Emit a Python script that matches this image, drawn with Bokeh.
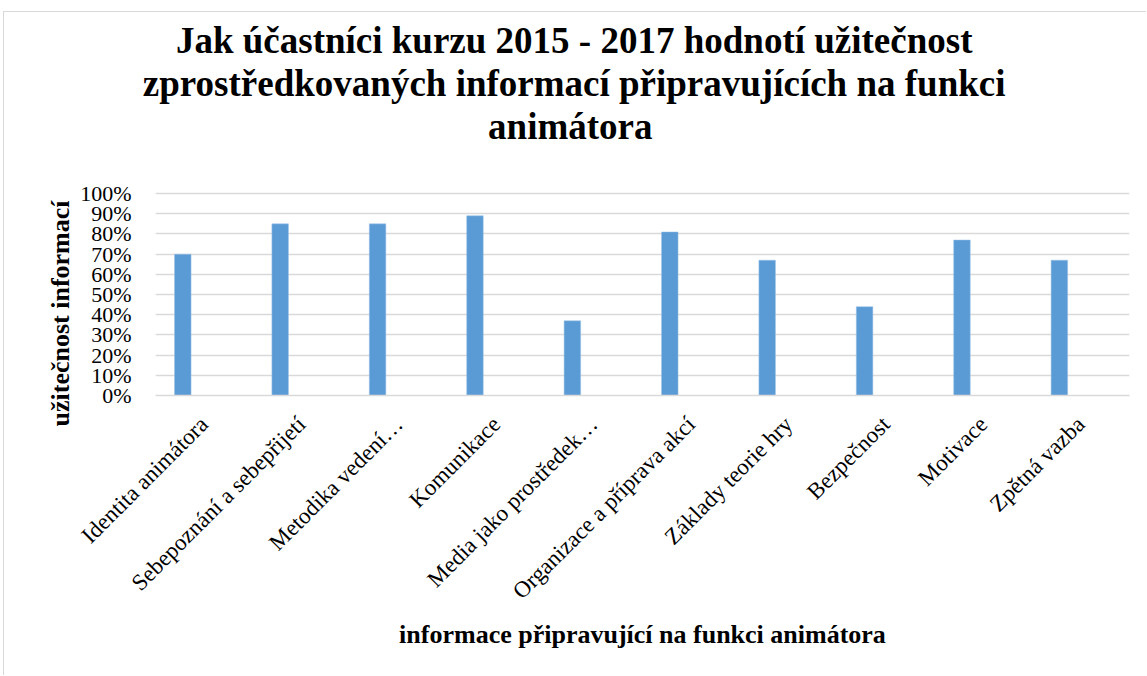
import math
from bokeh.plotting import figure
from bokeh.models import Title, FixedTicker, NumeralTickFormatter, Range1d
from bokeh.transform import dodge
from bokeh.embed import file_html
from bokeh.resources import INLINE

categories = [
    "Identita animátora",
    "Sebepoznání a sebepřijetí",
    "Metodika vedení…",
    "Komunikace",
    "Media jako prostředek…",
    "Organizace a příprava akcí",
    "Základy teorie hry",
    "Bezpečnost",
    "Motivace",
    "Zpětná vazba",
]
values = [0.70, 0.85, 0.85, 0.89, 0.37, 0.81, 0.67, 0.44, 0.77, 0.67]
y_ticks = [0.0, 0.1, 0.2, 0.3, 0.4, 0.5, 0.6, 0.7, 0.8, 0.9, 1.0]
title_lines = [
    "Jak účastníci kurzu 2015 - 2017 hodnotí užitečnost",
    "zprostředkovaných informací připravujících na funkci",
    "animátora",
]
x_title = "informace připravující na funkci animátora"
y_title = "užitečnost informací"

FONT = "Liberation Serif"
BFONT = "Times New Roman"
GRID = "#d9d9d9"

# the value range is extended above 100 % to leave blank room under the title;
# ticks and gridlines stop at 100 %
p = figure(
    x_range=categories,
    y_range=Range1d(0, 1.233),
    width=1143,
    height=664,
    output_backend="svg",
    toolbar_location=None,
    min_border_left=151,
    min_border_right=18,
    min_border_top=134,
    min_border_bottom=281,
)
p.styles = {
    "margin-left": "3px",
    "margin-top": "11px",
    "border-top": "1px solid #d9d9d9",
    "border-left": "1px solid #d9d9d9",
}

p.vbar(x=dodge("x", -0.22, range=p.x_range), top="top", width=0.17,
       source=dict(x=categories, top=values),
       color="#5b9bd5", line_color="#9dc3e6", line_width=0.5)

# title lines: right-aligned, offsets from the plot area's right edge
title_offsets = [157, 124, 477]
for line, off in reversed(list(zip(title_lines, title_offsets))):
    p.add_layout(Title(text=line, align="right", offset=off, standoff=0,
                       text_font=BFONT, text_font_size="37px",
                       text_font_style="bold", text_color="#000000"), "above")

p.add_layout(Title(text=y_title, align="right", offset=54, standoff=6,
                   text_font=BFONT, text_font_size="26px",
                   text_font_style="bold", text_color="#000000"), "left")

p.outline_line_color = None
p.background_fill_color = "white"
p.border_fill_color = "white"

p.xgrid.grid_line_color = None
p.ygrid.grid_line_color = GRID
p.ygrid.grid_line_width = 1.5

ya = p.left[0]
xa = p.below[0]
ya.ticker = FixedTicker(ticks=y_ticks)
ya.formatter = NumeralTickFormatter(format="0%")

for ax in (xa, ya):
    ax.major_tick_line_color = None
    ax.minor_tick_line_color = None
    ax.major_label_text_font = FONT
    ax.major_label_text_font_size = "22px"
    ax.major_label_text_color = "#000000"

ya.axis_line_color = None
ya.major_label_standoff = 18

xa.axis_line_color = GRID
xa.axis_line_width = 1.5
xa.major_label_orientation = math.pi / 4
xa.major_label_text_font_size = "23px"
xa.major_label_standoff = 19
xa.axis_label = x_title
xa.axis_label_text_font = BFONT
xa.axis_label_text_font_size = "26px"
xa.axis_label_text_font_style = "bold"
xa.axis_label_text_color = "#000000"
xa.axis_label_standoff = 4

open("out.html", "w").write(file_html(p, INLINE))
